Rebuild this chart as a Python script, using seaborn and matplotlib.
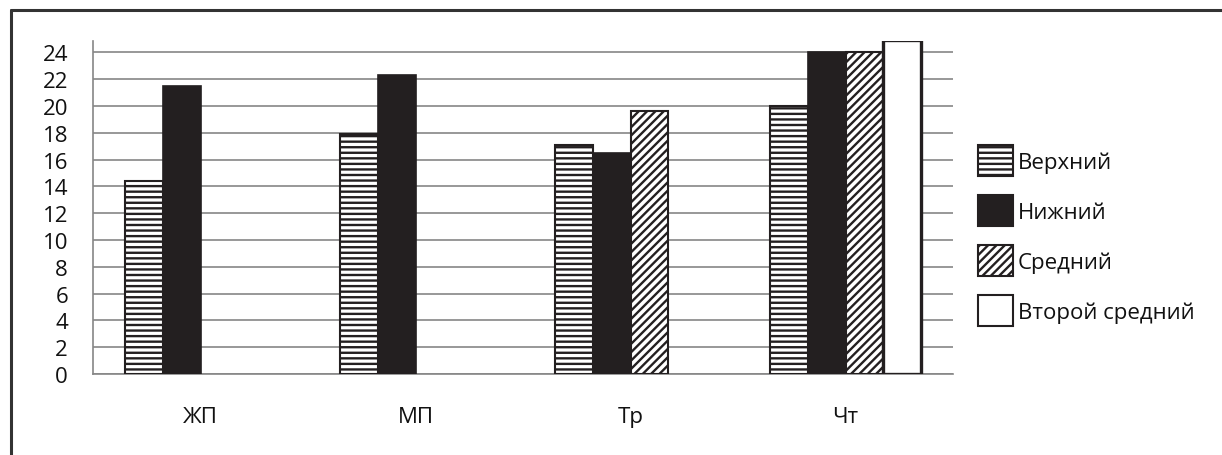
import numpy as np
import pandas as pd
import matplotlib
matplotlib.use("Agg")
import matplotlib.pyplot as plt
from matplotlib.patches import Patch
from matplotlib.lines import Line2D
import seaborn as sns

categories = ["ЖП", "МП", "Тр", "Чт"]
series_names = ["Верхний", "Нижний", "Средний", "Второй средний"]
verkhniy = [14.4, 17.9, 17.1, 20.0]
nizhniy = [21.5, 22.3, 16.5, 24.0]
sredniy = [np.nan, np.nan, 19.6, 24.0]
vtoroy_sredniy = [np.nan, np.nan, np.nan, 24.9]
y_ticks = list(range(0, 25, 2))

sns.set_theme(style="white")
plt.rcParams["font.family"] = ["Open Sans", "DejaVu Sans"]
plt.rcParams["hatch.linewidth"] = 1.7

rows = []
for name, vals in zip(series_names, [verkhniy, nizhniy, sredniy, vtoroy_sredniy]):
    for c, v in zip(categories, vals):
        rows.append({"cat": c, "series": name, "value": v})
df = pd.DataFrame(rows)

fills = {"Верхний": "white", "Нижний": "#231f20", "Средний": "white", "Второй средний": "white"}
hatches = {"Верхний": "---", "Нижний": "", "Средний": "////", "Второй средний": ""}
lws = {"Верхний": 1.5, "Нижний": 1.2, "Средний": 1.5, "Второй средний": 2.4}

FS = 16

fig = plt.figure(figsize=(12.22, 4.56), dpi=100)
ax = fig.add_axes([93 / 1222, 1 - 375 / 456, (953 - 93) / 1222, (375 - 41.7) / 456])

sns.barplot(data=df, x="cat", y="value", hue="series", order=categories,
            hue_order=series_names, palette=fills, width=0.7, gap=0,
            dodge=True, legend=False, ax=ax, zorder=3)

for name, cont in zip(series_names, ax.containers):
    for bar in cont:
        bar.set_facecolor(fills[name])
        bar.set_edgecolor("#231f20")
        bar.set_hatch(hatches[name])
        bar.set_linewidth(lws[name])
        bar.set_zorder(3)

ax.set_xlim(-0.5, len(categories) - 0.5)
ax.set_ylim(0, 24.87)
ax.set_yticks(y_ticks)
ax.set_yticklabels([str(t) for t in y_ticks], fontsize=FS, color="#111111")
ax.set_xticks(range(len(categories)))
ax.set_xticklabels(categories, fontsize=FS, color="#111111")
ax.set_xticks(np.arange(-0.5, len(categories), 1.0), minor=True)
ax.tick_params(axis="x", which="major", length=0, pad=23)
ax.tick_params(axis="x", which="minor", length=6, width=1.2, color="#868686", direction="out")
ax.tick_params(axis="y", which="major", length=6, width=1.2, color="#868686", direction="out", pad=12)
ax.set_xlabel("")
ax.set_ylabel("")
ax.yaxis.grid(True, color="#868686", linewidth=1.2, zorder=0)
ax.xaxis.grid(False)
ax.set_axisbelow(True)
for s in ["top", "right"]:
    ax.spines[s].set_visible(False)
for s in ["left", "bottom"]:
    ax.spines[s].set_color("#868686")
    ax.spines[s].set_linewidth(1.2)

handles = [Patch(facecolor=fills[n], edgecolor="#231f20", hatch=hatches[n], linewidth=1.5)
           for n in series_names]
fig.legend(handles, series_names, loc="upper left",
           bbox_to_anchor=(978 / 1222, 1 - 146 / 456), frameon=False, fontsize=FS,
           handlelength=1.58, handleheight=1.77, handletextpad=0.2,
           labelspacing=0.86, borderpad=0, borderaxespad=0, labelcolor="#111111")

# outer frame
fig.add_artist(Line2D([10.5 / 1222, 10.5 / 1222], [0, 1 - 10.5 / 456],
                      transform=fig.transFigure, color="#333333", linewidth=2.2))
fig.add_artist(Line2D([10.5 / 1222, 1], [1 - 10.5 / 456, 1 - 10.5 / 456],
                      transform=fig.transFigure, color="#333333", linewidth=2.2))

fig.savefig("out.png", dpi=100)
